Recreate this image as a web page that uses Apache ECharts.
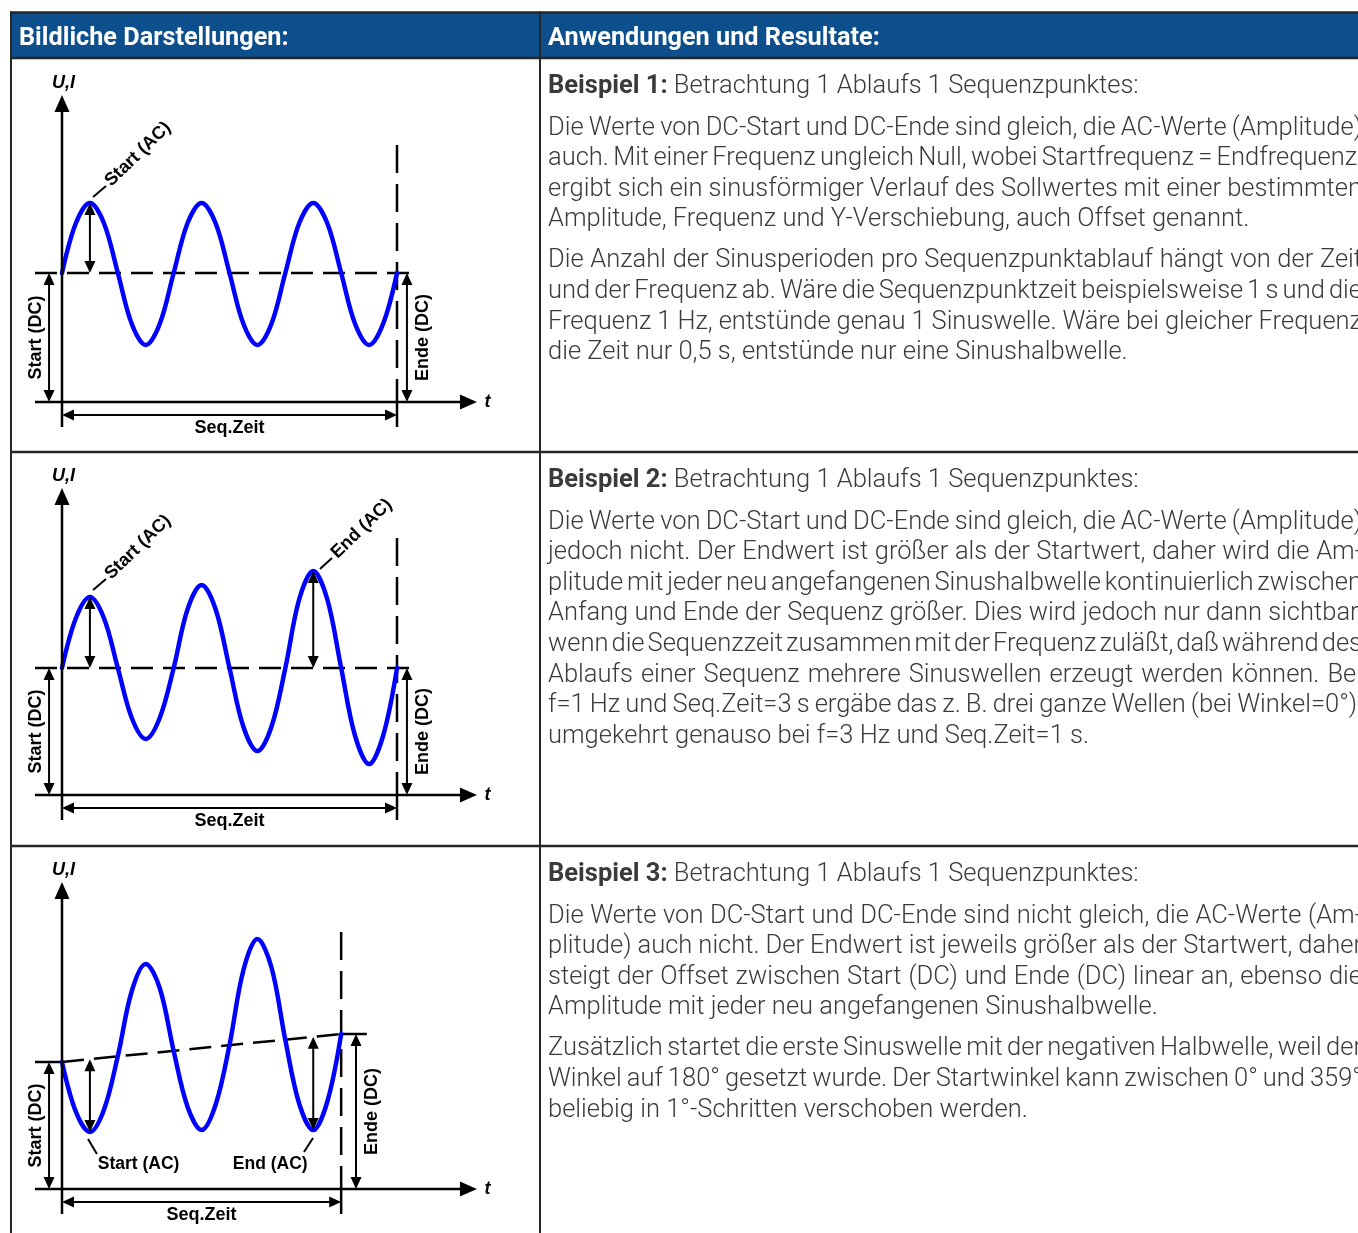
<!DOCTYPE html>
<html><head><meta charset="utf-8">
<script src="https://cdn.jsdelivr.net/npm/echarts@6/dist/echarts.min.js"></script>
<style>html,body{margin:0;padding:0;background:#fff}#c{width:1358px;height:1233px}</style>
</head><body><div id="c"></div>
<script>
// ================= DATA =================
const headerTitles = ['Bildliche Darstellungen:', 'Anwendungen und Resultate:'];

// time in sine periods, U,I in arbitrary units
const t1 = [0,0.125,0.25,0.375,0.5,0.625,0.75,0.875,1,1.125,1.25,1.375,1.5,1.625,1.75,1.875,2,2.125,2.25,2.375,2.5,2.625,2.75,2.875,3];
const u1 = [12.9,17.9,19.9,17.9,12.9,7.8,5.7,7.8, 12.9,17.9,19.9,17.9,12.9,7.8,5.7,7.8, 12.9,17.9,19.9,17.9,12.9,7.8,5.7,7.8, 12.9];
const t2 = [0,0.125,0.25,0.375,0.5,0.625,0.75,0.875,1,1.125,1.25,1.375,1.5,1.625,1.75,1.875,2,2.125,2.25,2.375,2.5,2.625,2.75,2.875,3];
const u2 = [12.7,17.7,19.8,17.7,12.7,7.7,5.6,7.7, 12.7,18.6,21.0,18.6,12.7,6.8,4.4,6.8, 12.7,19.6,22.4,19.6,12.7,5.9,3.1,5.9, 12.7];
const t3 = [0,0.125,0.25,0.375,0.5,0.625,0.75,0.875,1,1.125,1.25,1.375,1.5,1.625,1.75,1.875,2,2.125,2.25,2.375,2.5];
const u3 = [12.7,7.7,5.7,7.9,13.3,19.8,22.5,20.1,13.8,8.2,5.9,8.4,14.4,21.9,25.0,22.2,14.9,8.5,5.9,8.7,15.5];

const seqTime   = [3, 3, 2.5];
const dcStart   = [12.9, 12.7, 12.7];
const dcEnd     = [12.9, 12.7, 15.5];
const acStartAt = [0.25, 0.25, 0.25];
const acStartVal= [19.9, 19.8, 5.7];
const acEndAt   = [null, 2.25, 2.25];
const acEndVal  = [null, 22.4, 5.9];

const exampleTitles = ['Beispiel 1:', 'Beispiel 2:', 'Beispiel 3:'];
const exampleSubtitle = 'Betrachtung 1 Ablaufs 1 Sequenzpunktes:';
const paragraphs = [
  [
    ['Die Werte von DC-Start und DC-Ende sind gleich, die AC-Werte (Amplitude)',
     'auch. Mit einer Frequenz ungleich Null, wobei Startfrequenz = Endfrequenz,',
     'ergibt sich ein sinusförmiger Verlauf des Sollwertes mit einer bestimmten',
     'Amplitude, Frequenz und Y-Verschiebung, auch Offset genannt.'],
    ['Die Anzahl der Sinusperioden pro Sequenzpunktablauf hängt von der Zeit',
     'und der Frequenz ab. Wäre die Sequenzpunktzeit beispielsweise 1 s und die',
     'Frequenz 1 Hz, entstünde genau 1 Sinuswelle. Wäre bei gleicher Frequenz',
     'die Zeit nur 0,5 s, entstünde nur eine Sinushalbwelle.']
  ],
  [
    ['Die Werte von DC-Start und DC-Ende sind gleich, die AC-Werte (Amplitude)',
     'jedoch nicht. Der Endwert ist größer als der Startwert, daher wird die Am-',
     'plitude mit jeder neu angefangenen Sinushalbwelle kontinuierlich zwischen',
     'Anfang und Ende der Sequenz größer. Dies wird jedoch nur dann sichtbar,',
     'wenn die Sequenzzeit zusammen mit der Frequenz zuläßt, daß während des',
     'Ablaufs einer Sequenz mehrere Sinuswellen erzeugt werden können. Bei',
     'f=1 Hz und Seq.Zeit=3 s ergäbe das z. B. drei ganze Wellen (bei Winkel=0°),',
     'umgekehrt genauso bei f=3 Hz und Seq.Zeit=1 s.']
  ],
  [
    ['Die Werte von DC-Start und DC-Ende sind nicht gleich, die AC-Werte (Am-',
     'plitude) auch nicht. Der Endwert ist jeweils größer als der Startwert, daher',
     'steigt der Offset zwischen Start (DC) und Ende (DC) linear an, ebenso die',
     'Amplitude mit jeder neu angefangenen Sinushalbwelle.'],
    ['Zusätzlich startet die erste Sinuswelle mit der negativen Halbwelle, weil der',
     'Winkel auf 180° gesetzt wurde. Der Startwinkel kann zwischen 0° und 359°',
     'beliebig in 1°-Schritten verschoben werden.']
  ]
];

// ================= LAYOUT =================
const W = 1358, H = 1233;
const chart = echarts.init(document.getElementById('c'), null, {renderer:'canvas', width:W, height:H});
const mctx = document.createElement('canvas').getContext('2d');
function tw(s, font){ mctx.font = font; return mctx.measureText(s).width; }

const rowTop = [58, 452, 846];
const axisPx = [402, 795, 1189];
const BODY = 'Roboto';
const bodyFs = Math.round(100 * 700 / tw('Amplitude, Frequenz und Y-Verschiebung, auch Offset genannt.', `300 100px ${BODY}`) * 4) / 4;
const headFs = Math.round(100 * 269 / tw(headerTitles[0], `bold 100px ${BODY}`) * 4) / 4;
const bodyFont = `300 ${bodyFs}px ${BODY}`;
const boldFont = `bold ${bodyFs}px ${BODY}`;
const textColor = '#3a3a3a';

const G = [];
G.push({type:'rect', shape:{x:11, y:13, width:W, height:45}, style:{fill:'#0d4f8c'}, z:1, silent:true});
const bc = '#262626';
function hline(y, x1, x2, w){ G.push({type:'line', shape:{x1, y1:y, x2, y2:y}, style:{stroke:bc, lineWidth:w}, z:5, silent:true}); }
function vline(x, y1, y2, w){ G.push({type:'line', shape:{x1:x, y1, x2:x, y2}, style:{stroke:bc, lineWidth:w}, z:5, silent:true}); }
hline(12.5, 10, W, 2.5); hline(58, 10, W, 2.5); hline(452, 10, W, 2.5); hline(846, 10, W, 2.5);
vline(11, 11.5, H, 2); vline(540, 11.5, H, 2);

G.push({type:'text', x:19, y:39, z:6, silent:true, style:{text:headerTitles[0], fill:'#fff', fontSize:headFs, fontFamily:BODY, fontWeight:'bold', align:'left', verticalAlign:'middle'}});
G.push({type:'text', x:548, y:39, z:6, silent:true, style:{text:headerTitles[1], fill:'#fff', fontSize:headFs, fontFamily:BODY, fontWeight:'bold', align:'left', verticalAlign:'middle'}});

function txt(x, y, s, bold){
  G.push({type:'text', x, y, z:6, silent:true, style:{text:s, fill:textColor, fontSize:bodyFs, fontFamily:BODY, fontWeight:bold?'bold':300, align:'left', verticalAlign:'middle'}});
}
const X0 = 548, XR = 1362, LH = 30.6, PG = 41;
function placeLine(line, y, justify){
  const words = line.split(' ');
  const ws = words.map(w => tw(w, bodyFont));
  const sum = ws.reduce((a,b)=>a+b, 0);
  const sp = (justify && words.length > 1) ? (XR - X0 - sum) / (words.length - 1) : tw(' ', bodyFont);
  let x = X0;
  words.forEach((w,k) => { txt(x, y, w, false); x += ws[k] + sp; });
}
paragraphs.forEach((paras, r) => {
  const ty = rowTop[r] + 28.5;
  txt(X0, ty, exampleTitles[r], true);
  txt(X0 + tw(exampleTitles[r], boldFont) + tw(' ', bodyFont), ty, exampleSubtitle, false);
  let y = rowTop[r] + 70.3;
  paras.forEach((lines, p) => {
    if (p > 0) y += PG - LH;
    lines.forEach((ln, k) => { placeLine(ln, y, k < lines.length - 1); y += LH; });
  });
});

// ---------- diagram annotation drawing ----------
function tri(tip, ux, uy, len, wid){
  const bx = tip[0]-ux*len, by = tip[1]-uy*len;
  return {type:'polygon', shape:{points:[[tip[0],tip[1]],[bx-uy*wid/2, by+ux*wid/2],[bx+uy*wid/2, by-ux*wid/2]]}, style:{fill:'#000'}};
}
const DFONT = 'Liberation Sans, Arial, sans-serif';
function renderSpec(s, api){
  if (s.k === 'line'){
    const a = api.coord(s.a), b = api.coord(s.b);
    const st = {stroke:'#000', lineWidth:s.w || 2.5};
    if (s.dash) st.lineDash = s.dash;
    return {type:'line', shape:{x1:a[0], y1:a[1], x2:b[0], y2:b[1]}, style:st};
  }
  if (s.k === 'arrow'){
    const a = api.coord(s.a), b = api.coord(s.b);
    const dx = b[0]-a[0], dy = b[1]-a[1], L = Math.hypot(dx,dy), ux = dx/L, uy = dy/L;
    const len = s.len || 12, wid = s.wid || 11;
    let st = a;
    const els = [];
    if (s.heads === 'both'){ st = [a[0]+ux*len*0.8, a[1]+uy*len*0.8]; els.push(tri(a, -ux, -uy, len, wid)); }
    const en = [b[0]-ux*len*0.8, b[1]-uy*len*0.8];
    els.push(tri(b, ux, uy, len, wid));
    els.unshift({type:'line', shape:{x1:st[0], y1:st[1], x2:en[0], y2:en[1]}, style:{stroke:'#000', lineWidth:s.w || 2}});
    return {type:'group', children:els};
  }
  if (s.k === 'text'){
    const a = api.coord(s.at);
    return {type:'text', x:a[0], y:a[1], rotation:s.rot || 0,
      style:{text:s.text, fill:'#000', fontSize:s.fs || 18, fontFamily:DFONT, fontWeight:'bold',
             fontStyle:s.italic ? 'italic' : 'normal', align:s.align || 'center', verticalAlign:'middle'}};
  }
}
function annoSpecs(i){
  const S = seqTime[i], dS = dcStart[i], dE = dcEnd[i];
  const mid = x => dS + (dE - dS) * x / S;
  const A = [];
  A.push({k:'arrow', a:[0,-2.5], b:[0,30.7], heads:'end', len:17, wid:15, w:2.5});
  A.push({k:'arrow', a:[-0.242,0], b:[3.716,0], heads:'end', len:17, wid:15, w:2.5});
  A.push({k:'text', at:[0.013,31.9], text:'U,I', italic:true});
  A.push({k:'text', at:[3.81,0], text:'t', italic:true});
  A.push({k:'line', a:[S,0.9], b:[S,-2.5], w:2.5});
  A.push({k:'arrow', a:[0,-1.3], b:[S,-1.3], heads:'both', len:12, wid:11, w:2});
  A.push({k:'text', at:[S/2,-2.6], text:'Seq.Zeit'});
  A.push({k:'arrow', a:[-0.116,0], b:[-0.116,dS], heads:'both', len:12, wid:11, w:2});
  A.push({k:'text', at:[-0.233, dS/2], text:'Start (DC)', rot:Math.PI/2});
  const xe = i < 2 ? 3.089 : 2.633, xl = i < 2 ? 3.233 : 2.776;
  A.push({k:'arrow', a:[xe,0], b:[xe,dE], heads:'both', len:12, wid:11, w:2});
  A.push({k:'text', at:[xl, dE/2], text:'Ende (DC)', rot:Math.PI/2});
  const xs = acStartAt[i];
  A.push({k:'arrow', a:[xs, mid(xs)], b:[xs, acStartVal[i]], heads:'both', len:12, wid:11, w:2});
  if (acEndAt[i] != null){
    const xn = acEndAt[i];
    A.push({k:'arrow', a:[xn, mid(xn)], b:[xn, acEndVal[i]], heads:'both', len:12, wid:11, w:2});
  }
  if (i < 2){
    A.push({k:'line', a:[0.278,20.5], b:[0.394,21.6], w:2});
    A.push({k:'text', at:[0.41,21.85], text:'Start (AC)', rot:0.77, align:'left'});
    if (i === 1){
      A.push({k:'line', a:[2.31,22.6], b:[2.418,23.7], w:2});
      A.push({k:'text', at:[2.436,23.95], text:'End (AC)', rot:0.77, align:'left'});
    }
  } else {
    A.push({k:'line', a:[0.233,5.0], b:[0.313,3.5], w:2});
    A.push({k:'text', at:[0.32,2.5], text:'Start (AC)', align:'left', fs:17.5});
    A.push({k:'line', a:[2.248,5.1], b:[2.167,3.7], w:2});
    A.push({k:'text', at:[2.2,2.5], text:'End (AC)', align:'right', fs:17.5});
  }
  return A;
}
function dashSpecs(i){
  const S = seqTime[i], dS = dcStart[i], dE = dcEnd[i];
  const D = [];
  D.push({k:'line', a:[S,25.7], b:[S,0.9], dash:[28,11], w:2.5});
  if (i < 2){
    D.push({k:'line', a:[-0.242,dS], b:[3.18,dS], dash:[22,10], w:2.5});
  } else {
    D.push({k:'line', a:[-0.242,dS], b:[0,dS], w:2.5});
    D.push({k:'line', a:[0,dS], b:[S,dE], dash:[22,10], w:2.5});
    D.push({k:'line', a:[S,dE], b:[2.73,dE], w:2.5});
  }
  return D;
}

const waves = [[t1,u1],[t2,u2],[t3,u3]];
const series = [];
[0,1,2].forEach(i => {
  const D = dashSpecs(i), A = annoSpecs(i);
  series.push({type:'custom', coordinateSystem:'cartesian2d', xAxisIndex:i, yAxisIndex:i, clip:false, silent:true, z:1,
    data:[[0,0]], renderItem:(p, api) => ({type:'group', children:D.map(s => renderSpec(s, api))})});
  series.push({type:'line', xAxisIndex:i, yAxisIndex:i, silent:true, z:2, smooth:0.35, symbol:'none', clip:false,
    data: waves[i][0].map((x,k) => [x, waves[i][1][k]]),
    lineStyle:{color:'#0000ff', width:4.5, cap:'round', join:'round'}});
  series.push({type:'custom', coordinateSystem:'cartesian2d', xAxisIndex:i, yAxisIndex:i, clip:false, silent:true, z:3,
    data:[[0,0]], renderItem:(p, api) => ({type:'group', children:A.map(s => renderSpec(s, api))})});
});

chart.setOption({
  animation:false,
  backgroundColor:'#fff',
  grid:[0,1,2].map(i => ({left:34.0833, width:446.667, top:axisPx[i]-330, height:370, outerBoundsMode:'none', containLabel:false})),
  xAxis:[0,1,2].map(i => ({type:'value', gridIndex:i, min:-0.25, max:3.75, show:false})),
  yAxis:[0,1,2].map(i => ({type:'value', gridIndex:i, min:-4, max:33, show:false})),
  series,
  graphic:{elements:G}
});
</script></body></html>
